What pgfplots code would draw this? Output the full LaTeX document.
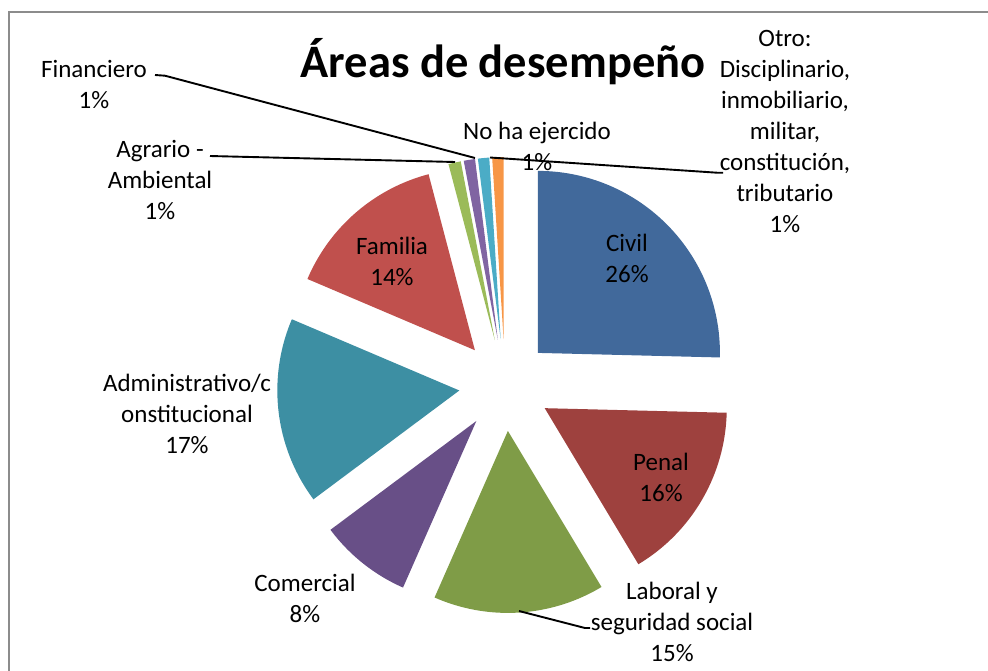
\documentclass[border=0pt]{standalone}
\usepackage{pgfplots}
\pgfplotsset{compat=1.18}
\usepackage{fontspec}
\setmainfont{Carlito}
\definecolor{cCivil}{HTML}{41699B}
\definecolor{cPenal}{HTML}{9E413E}
\definecolor{cLaboral}{HTML}{7F9C47}
\definecolor{cComercial}{HTML}{684F87}
\definecolor{cAdmin}{HTML}{3D8FA3}
\definecolor{cFamilia}{HTML}{C0504D}
\definecolor{cAgrario}{HTML}{9BBB59}
\definecolor{cFinanciero}{HTML}{8064A2}
\definecolor{cNoha}{HTML}{4BACC6}
\definecolor{cOtro}{HTML}{F79646}
% pie geometry (pixels)
\def\pcx{505}\def\pcy{385}\def\pr{182}\def\pex{46}
\xdef\cum{0}
\newcommand{\pieslice}[2]{%
  \pgfmathsetmacro{\aS}{90-3.6*\cum}%
  \pgfmathsetmacro{\newcum}{\cum+#1}%
  \xdef\cum{\newcum}%
  \pgfmathsetmacro{\aE}{90-3.6*\cum}%
  \pgfmathsetmacro{\aM}{(\aS+\aE)/2}%
  \pgfmathsetmacro{\ax}{\pcx+\pex*cos(\aM)}%
  \pgfmathsetmacro{\ay}{\pcy-\pex*sin(\aM)}%
  \edef\tmp{\noexpand\addplot[fill=#2, draw=none, domain=\aE:\aS, samples=80]
    ({\ax+\pr*cos(x)},{\ay-\pr*sin(x)}) -- (axis cs:\ax,\ay) -- cycle;}%
  \tmp
}
\begin{document}
\begin{tikzpicture}
\begin{axis}[hide axis, scale only axis, width=988pt, height=670pt,
  xmin=0, xmax=988, ymin=0, ymax=670, y dir=reverse, clip=false]
\coordinate (TL) at (axis cs:0,0);
\coordinate (BR) at (axis cs:988,670);
% frame
\addplot[draw=black!45, line width=2pt] coordinates {(8.5,672) (8.5,11.5) (990,11.5)};
% slices: value (%), colour
\pieslice{25.4}{cCivil}
\pieslice{16.0}{cPenal}
\pieslice{15.2}{cLaboral}
\pieslice{8.2}{cComercial}
\pieslice{16.6}{cAdmin}
\pieslice{14.5}{cFamilia}
\pieslice{1.1}{cAgrario}
\pieslice{1.0}{cFinanciero}
\pieslice{1.0}{cNoha}
\pieslice{1.0}{cOtro}
% leader lines
\addplot[black, line width=1.9pt] coordinates {(155,75) (165,75.7) (475,158)};
\addplot[black, line width=1.9pt] coordinates {(210,156) (455,162)};
\addplot[black, line width=1.9pt] coordinates {(490,157.5) (717,172.7) (723,172.7)};
\addplot[black, line width=1.9pt] coordinates {(519,611) (585,628) (590,628)};
% title
\node[font=\fontsize{46.5}{56}\selectfont\bfseries] at (axis cs:503,62) {Áreas de desempeño};
% labels
\tikzset{lab/.style={align=center, font=\fontsize{25}{31}\selectfont, inner sep=0pt}}
\node[lab] at (axis cs:94,84) {Financiero\\1\%};
\node[lab] at (axis cs:160,180) {Agrario -\\Ambiental\\1\%};
\node[lab] at (axis cs:537,146) {No ha ejercido\\1\%};
\node[lab] at (axis cs:785,131) {Otro:\\Disciplinario,\\inmobiliario,\\militar,\\constitución,\\tributario\\1\%};
\node[lab] at (axis cs:627,258) {Civil\\26\%};
\node[lab] at (axis cs:392,261) {Familia\\14\%};
\node[lab] at (axis cs:187,414) {Administrativo/c\\onstitucional\\17\%};
\node[lab] at (axis cs:661,477) {Penal\\16\%};
\node[lab] at (axis cs:305,598) {Comercial\\8\%};
\node[lab] at (axis cs:672,622) {Laboral y\\seguridad social\\15\%};
\end{axis}
\pgfresetboundingbox
\useasboundingbox (TL) rectangle (BR);
\end{tikzpicture}
\end{document}
